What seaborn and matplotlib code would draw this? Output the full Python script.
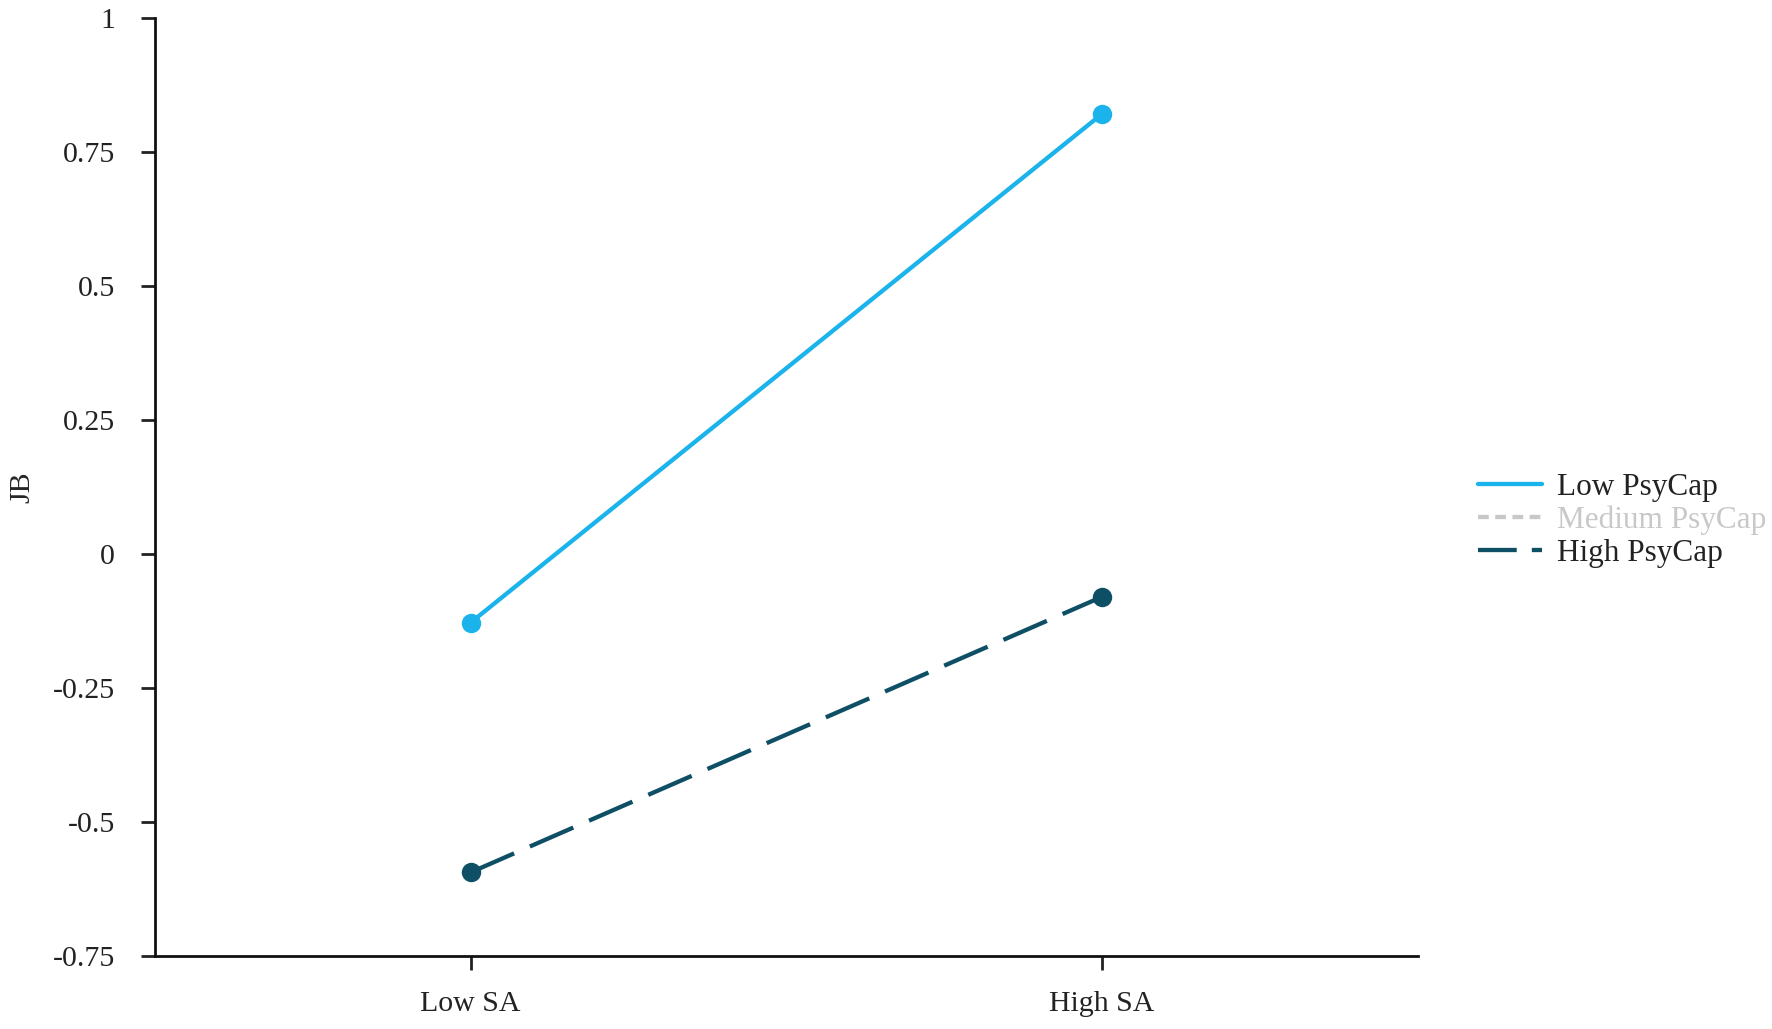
import numpy as np
import pandas as pd
import matplotlib
matplotlib.use("Agg")
import matplotlib.pyplot as plt
from matplotlib.lines import Line2D
import seaborn as sns

# Data
sa_levels = ["Low SA", "High SA"]
low_psycap = [-0.128, 0.821]
high_psycap = [-0.594, -0.080]
series_names = ["Low PsyCap", "Medium PsyCap", "High PsyCap"]
y_ticks = [-0.75, -0.5, -0.25, 0, 0.25, 0.5, 0.75, 1]
y_tick_labels = ["-0.75", "-0.5", "-0.25", "0", "0.25", "0.5", "0.75", "1"]

LOW_COLOR = "#1BB3EC"
MED_COLOR = "#C8C8C8"
HIGH_COLOR = "#0F4F66"

df = pd.DataFrame({
    "SA": sa_levels * 2,
    "JB": low_psycap + high_psycap,
    "PsyCap": ["Low PsyCap"] * 2 + ["High PsyCap"] * 2,
})

sns.set_style("ticks")
plt.rcParams["font.family"] = ["Liberation Serif", "DejaVu Serif"]

fig = plt.figure(figsize=(17.72, 10.29), dpi=100)
ax = fig.add_axes([0.0875, 0.071, 0.7125, 0.9115])

sns.lineplot(data=df, x="SA", y="JB", hue="PsyCap", style="PsyCap",
             palette={"Low PsyCap": LOW_COLOR, "High PsyCap": HIGH_COLOR},
             dashes={"Low PsyCap": "", "High PsyCap": (11, 4)},
             markers={"Low PsyCap": "o", "High PsyCap": "o"},
             markersize=14, markeredgewidth=0, linewidth=3.1,
             sort=False, legend=False, ax=ax)

ax.set_xlim(-0.5, 1.5)
ax.set_ylim(-0.75, 1)
ax.set_yticks(y_ticks)
ax.set_yticklabels(y_tick_labels)
ax.set_xlabel("")
ax.set_ylabel("JB", fontsize=21.5, labelpad=12)
ax.tick_params(axis="y", labelsize=21.5, length=10, width=2, pad=19, colors="#222222")
ax.tick_params(axis="x", labelsize=21.5, length=10, width=2, pad=15, colors="#222222")
for side in ["top", "right"]:
    ax.spines[side].set_visible(False)
for side in ["left", "bottom"]:
    ax.spines[side].set_linewidth(2)
    ax.spines[side].set_color("#111111")

# legend handles; the medium group has no plotted line
handles = [
    Line2D([], [], color=LOW_COLOR, lw=3.1),
    Line2D([], [], color=MED_COLOR, lw=3.1, dashes=(2.5, 1.5)),
    Line2D([], [], color=HIGH_COLOR, lw=3.1, dashes=(9, 3.5)),
]
fig.legend(handles, series_names, loc="center left", bbox_to_anchor=(0.8255, 0.494),
           frameon=False, fontsize=22.5, handlelength=2.05, handletextpad=0.48,
           labelspacing=0.12, borderpad=0,
           labelcolor=["#222222", MED_COLOR, "#222222"])

fig.savefig("out.png", dpi=100)
